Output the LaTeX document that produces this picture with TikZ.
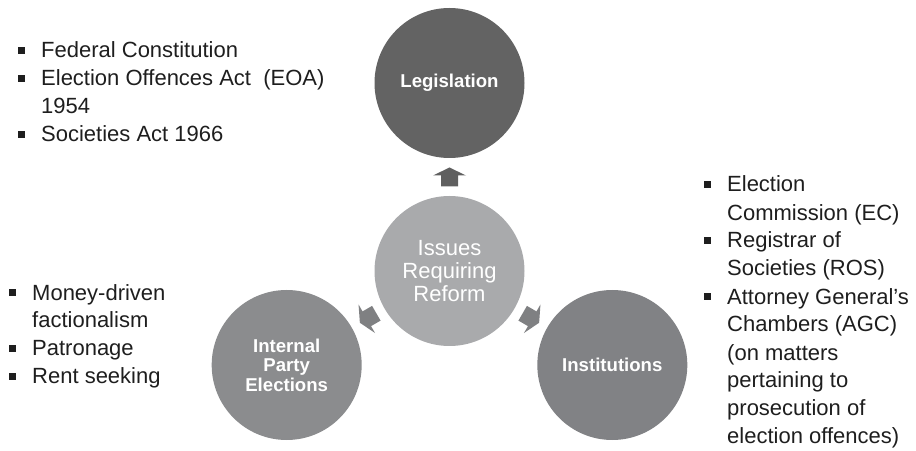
\documentclass[tikz,border=0pt]{standalone}
\usepackage{fontspec}
\setmainfont{Liberation Sans}
\usetikzlibrary{calc}

\definecolor{legfill}{HTML}{636363}
\definecolor{ctrfill}{HTML}{A9AAAC}
\definecolor{ipefill}{HTML}{8B8C8E}
\definecolor{insfill}{HTML}{818285}
\definecolor{arrowup}{HTML}{5F5F5F}
\definecolor{arrowside}{HTML}{7F8082}
\definecolor{ink}{HTML}{1E1E1E}

% square list bullet, hung to the left of the line
\newcommand{\sqbul}{\makebox[0pt][r]{\raisebox{4pt}{\color{ink}\rule{7pt}{7pt}}\hspace{16pt}}}

\tikzset{
  hub/.style={circle, minimum size=150pt, inner sep=0pt, draw=none,
    text=white, align=center},
  boldlabel/.style={font=\bfseries\fontsize{18.6}{19.5}\selectfont},
  listtext/.style={align=left, inner sep=0pt, text=ink,
    font=\fontsize{22}{28}\selectfont},
  blockarr/.pic={
    \fill (-9.5,-8.5) -- (1.5,-8.5) -- (1.5,-16.5) -- (9.5,0)
      -- (1.5,16.5) -- (1.5,8.5) -- (-9.5,8.5) -- cycle;
  }
}

\begin{document}
\begin{tikzpicture}[x=1pt, y=1pt]
  \useasboundingbox (0,0) rectangle (916,450);

  % circles of the radial layout
  \coordinate (o) at (449.5,179);
  \node[hub, fill=ctrfill, font=\fontsize{22}{23}\selectfont] (ctr) at (o)
    {Issues\\Requiring\\Reform};
  \node[hub, fill=legfill, boldlabel] (leg) at ($(o)+(90:188)$) {Legislation};
  \node[hub, fill=ipefill, boldlabel] (ipe) at ($(o)+(210:188)$)
    {Internal\\Party\\Elections};
  \node[hub, fill=insfill, boldlabel] (ins) at ($(o)+(330:188)$) {Institutions};

  % outward block arrows between the hub and each topic
  \pic[fill=arrowup, rotate=90] at ($(ctr.center)!0.5!(leg.center)$) {blockarr};
  \pic[fill=arrowside, rotate=210] at ($(ctr.center)!0.5!(ipe.center)$) {blockarr};
  \pic[fill=arrowside, rotate=330] at ($(ctr.center)!0.5!(ins.center)$) {blockarr};

  % bullet lists (anchored at the baseline of their last line)
  \node[listtext, anchor=base west] (leglist) at (41,308)
    {\sqbul Federal Constitution\\
     \sqbul Election Offences Act\ \ (EOA)\\
     1954\\
     \sqbul Societies Act 1966};
  \node[listtext, anchor=base west] (ipelist) at (32,66)
    {\sqbul Money-driven\\
     factionalism\\
     \sqbul Patronage\\
     \sqbul Rent seeking};
  \node[listtext, anchor=base west] (inslist) at (727,6)
    {\sqbul Election\\
     Commission (EC)\\
     \sqbul Registrar of\\
     Societies (ROS)\\
     \sqbul Attorney General's\\
     Chambers (AGC)\\
     (on matters\\
     pertaining to\\
     prosecution of\\
     election offences)};
\end{tikzpicture}
\end{document}
